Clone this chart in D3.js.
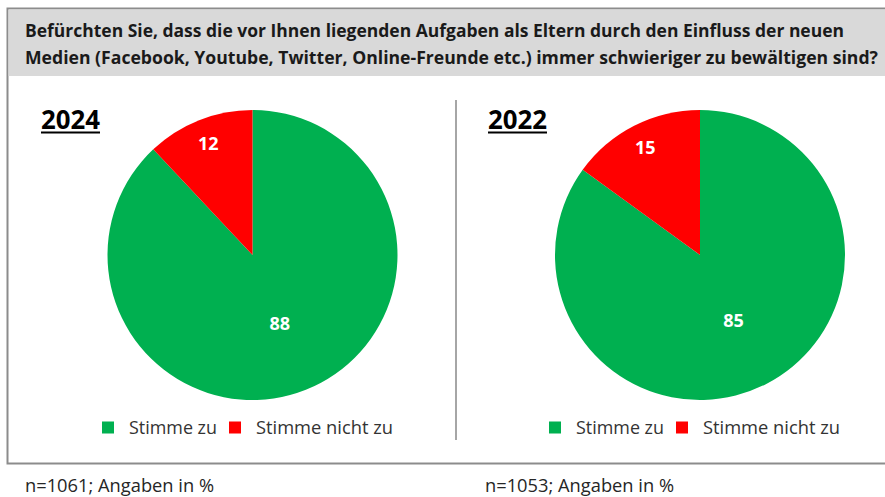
<!DOCTYPE html>
<html lang="de">
<head>
    <meta charset="UTF-8">
    <title>Neue Medien</title>
    <style>
        html,body { margin:0; padding:0; background:#fff; }
        svg { display:block; }
        text { font-family: "Open Sans", "Liberation Sans", sans-serif; }
    </style>
    <script src="https://cdn.jsdelivr.net/npm/d3@7"></script>
</head>
<body>
<svg></svg>
<script>
    // ---- data ----
    const titleLines = [
        'Befürchten Sie, dass die vor Ihnen liegenden Aufgaben als Eltern durch den Einfluss der neuen',
        'Medien (Facebook, Youtube, Twitter, Online-Freunde etc.) immer schwieriger zu bewältigen sind?'
    ]
    const categories = ['Stimme zu', 'Stimme nicht zu']
    const years = ['2024', '2022']
    const values2024 = [88, 12]
    const values2022 = [85, 15]
    const footnotes = ['n=1061; Angaben in %', 'n=1053; Angaben in %']

    const W = 885, H = 497
    const color = d3.scaleOrdinal().domain(categories).range(['#00b050', '#ff0000'])

    const svg = d3.select('svg').attr('width', W).attr('height', H)

    // frame + title band
    svg.append('rect').attr('x', 7.5).attr('y', 8.5).attr('width', W).attr('height', 455)
        .attr('fill', 'none').attr('stroke', '#8c8c8c').attr('stroke-width', 2)
    svg.append('rect').attr('x', 8.5).attr('y', 9.5).attr('width', W).attr('height', 66.5)
        .attr('fill', '#d9d9d9')

    // fit the (Calibri-like) title into the reference widths
    const titleWidths = [819, 853]
    svg.selectAll('.title').data(titleLines).enter().append('text')
        .attr('class', 'title')
        .attr('x', 25).attr('y', (d, i) => 37 + i * 27)
        .attr('font-size', 17).attr('font-weight', 'bold').attr('fill', '#1a1a1a')
        .attr('textLength', (d, i) => titleWidths[i]).attr('lengthAdjust', 'spacingAndGlyphs')
        .text(d => d)

    // divider
    svg.append('line').attr('x1', 456).attr('x2', 456).attr('y1', 100).attr('y2', 440)
        .attr('stroke', '#a6a6a6').attr('stroke-width', 2)

    const panels = [
        {year: years[0], values: values2024, cx: 252.5, x0: 0, noteX: 25, note: footnotes[0]},
        {year: years[1], values: values2022, cx: 700, x0: 447, noteX: 485, note: footnotes[1]}
    ]

    const R = 145, CY = 255
    const pie = d3.pie().sort(null)
    const arc = d3.arc().innerRadius(0).outerRadius(R)
    const legendWidths = [88, 137]

    panels.forEach((p) => {
        const g = svg.append('g')

        // year heading
        g.append('text').attr('x', p.x0 + 41).attr('y', 129)
            .attr('font-size', 26).attr('font-weight', 'bold').attr('fill', '#000')
            .attr('textLength', 59).attr('lengthAdjust', 'spacingAndGlyphs')
            .text(p.year)
        g.append('line').attr('x1', p.x0 + 41).attr('x2', p.x0 + 100)
            .attr('y1', 132.5).attr('y2', 132.5).attr('stroke', '#000').attr('stroke-width', 2)

        // pie
        const slices = pie(p.values)
        const pg = g.append('g').attr('transform', `translate(${p.cx},${CY})`)
        pg.selectAll('path').data(slices).enter().append('path')
            .attr('d', arc)
            .attr('fill', (d, i) => color(categories[i]))
        pg.selectAll('text').data(slices).enter().append('text')
            .attr('transform', d => {
                const share = (d.endAngle - d.startAngle) / (2 * Math.PI)
                const r = share < 0.25 ? R * 0.83 : R * 0.51
                const a = (d.startAngle + d.endAngle) / 2
                return `translate(${Math.sin(a) * r},${-Math.cos(a) * r})`
            })
            .attr('text-anchor', 'middle').attr('dy', '0.36em')
            .attr('font-size', 18).attr('font-weight', 'bold').attr('fill', '#fff')
            .text(d => d.data)

        // legend
        const lx = [p.x0 + 102, p.x0 + 229]
        const lg = g.selectAll('.leg').data(categories).enter().append('g')
            .attr('transform', (d, i) => `translate(${lx[i]},421.5)`)
        lg.append('rect').attr('width', 12).attr('height', 12).attr('fill', d => color(d))
        lg.append('text').attr('x', 27).attr('y', 12)
            .attr('font-size', 18).attr('fill', '#333')
            .attr('textLength', (d, i) => legendWidths[i]).attr('lengthAdjust', 'spacingAndGlyphs')
            .text(d => d)

        // footnote
        g.append('text').attr('x', p.noteX).attr('y', 491.5)
            .attr('font-size', 18).attr('fill', '#262626')
            .attr('textLength', 189).attr('lengthAdjust', 'spacingAndGlyphs')
            .text(p.note)
    })
</script>
</body>
</html>
